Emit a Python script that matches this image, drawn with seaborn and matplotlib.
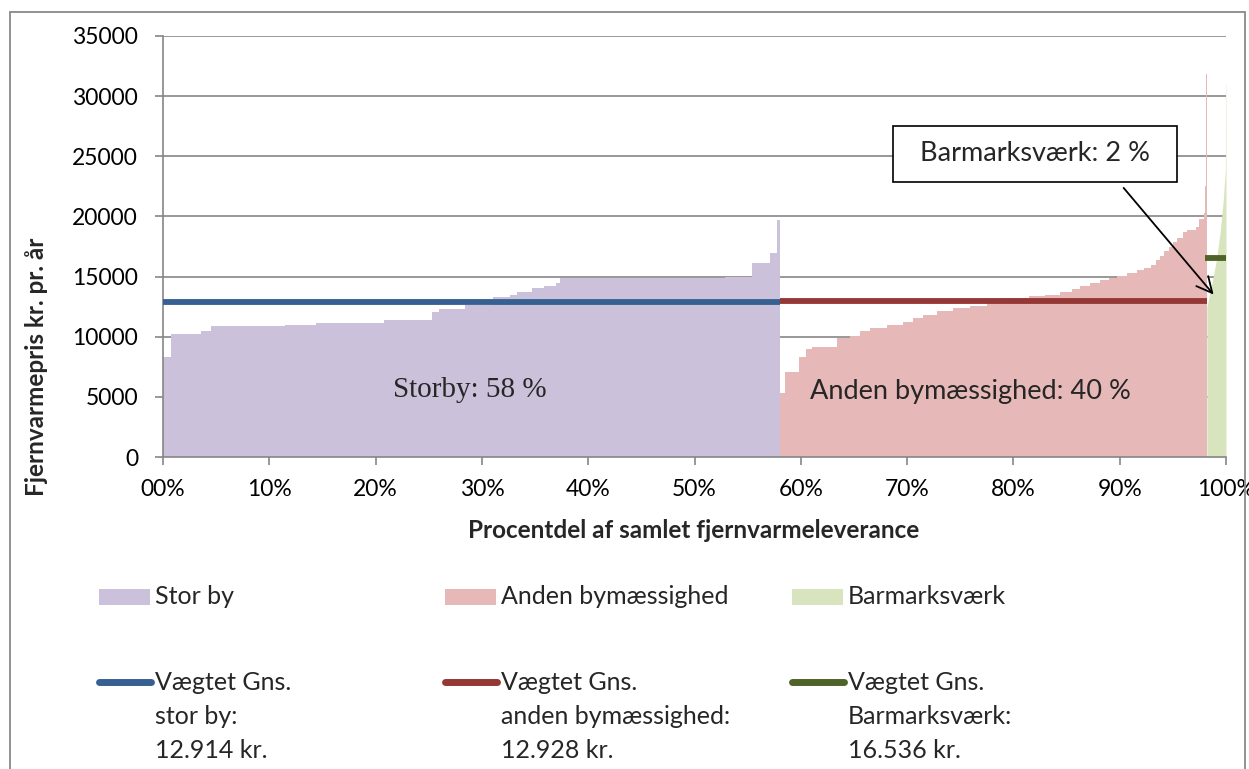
import numpy as np
import pandas as pd
import matplotlib
matplotlib.use("Agg")
import matplotlib.pyplot as plt
import seaborn as sns
from matplotlib.patches import Rectangle
from matplotlib.lines import Line2D

# step data: x = start of each step (% of delivery), y = price (kr. pr. år)
stor_x = [0, 0.75, 3.57, 4.48, 11.48, 14.39, 20.79, 25.27, 26.0, 28.4, 31.07, 32.64, 33.27,
          34.68, 35.87, 36.97, 37.35, 52.87, 55.38, 57.1, 57.73]
stor_y = [8330, 10220, 10470, 10890, 10970, 11170, 11360, 12030, 12300, 12640, 13330, 13500, 13700,
          14030, 14250, 14440, 14890, 15000, 16140, 16940, 19700]
stor_end = 58.0

anden_x = [58.0, 58.51, 59.86, 60.49, 61.02, 63.38, 64.63, 65.57, 66.51, 68.08, 69.64, 70.58,
           71.52, 72.78, 74.35, 75.92, 77.49, 79.05, 81.5, 83.0, 84.4, 85.5, 86.3, 87.2, 88.1,
           89.0, 89.7, 90.7, 91.6, 92.3, 92.9, 93.4, 93.8, 94.2, 94.6, 95.0, 95.4, 96.0, 96.3,
           97.2, 97.5, 97.9, 98.05, 98.12, 98.16]
anden_y = [5280, 7100, 8330, 8950, 9170, 9860, 10060, 10500, 10700, 10970, 11250, 11530,
           11800, 12140, 12360, 12560, 12780, 13200, 13350, 13500, 13750, 13950, 14200, 14450, 14700,
           14900, 15050, 15300, 15550, 15750, 16000, 16350, 16700, 17100, 17500, 17850, 18200, 18700,
           18900, 19100, 19800, 20300, 22500, 25500, 31800]
anden_end = 98.2

barmark_x = [98.2, 98.33, 98.8, 99.1, 99.44, 99.75, 99.94, 99.97, 100]
barmark_y = [12500, 13000, 15000, 16400, 18600, 21400, 23900, 31000, 31000]

# weighted averages
mean_vals = [12914, 12928, 16536]
mean_start = [0, 58.0, 98.0]
mean_stop = [58.0, 98.2, 100.0]

area_labels = ["Stor by", "Anden bymæssighed", "Barmarksværk"]
mean_labels = ["Vægtet Gns.\nstor by:\n12.914 kr.",
               "Vægtet Gns.\nanden bymæssighed:\n12.928 kr.",
               "Vægtet Gns.\nBarmarksværk:\n16.536 kr."]
xtick_vals = [0, 10, 20, 30, 40, 50, 60, 70, 80, 90, 100]
xtick_labels = ["00%", "10%", "20%", "30%", "40%", "50%", "60%", "70%", "80%", "90%", "100%"]
ytick_vals = [0, 5000, 10000, 15000, 20000, 25000, 30000, 35000]

area_colors = ["#CCC1DA", "#E6B9B8", "#D7E4BD"]
line_colors = ["#376092", "#953735", "#4F6228"]
gray = "#868686"

sns.set_theme(style="white")
plt.rcParams['font.family'] = ['Lato', 'DejaVu Sans']

W, H = 1249, 769
fig = plt.figure(figsize=(W / 100, H / 100), dpi=100)
ax = fig.add_axes([163 / W, 1 - 457 / H, (1226 - 163) / W, (457 - 36) / H])

# areas (step-wise)
sx = stor_x + [stor_end]
sy = stor_y + [stor_y[-1]]
ax.fill_between(sx, sy, step='post', color=area_colors[0], lw=0, zorder=2)
axx = anden_x + [anden_end]
ayy = anden_y + [anden_y[-1]]
ax.fill_between(axx, ayy, step='post', color=area_colors[1], lw=0, zorder=2)
ax.fill_between(barmark_x, barmark_y, color=area_colors[2], lw=0, zorder=2)

# weighted average lines
for i in range(3):
    df = pd.DataFrame({"x": [mean_start[i], mean_stop[i]], "y": [mean_vals[i], mean_vals[i]]})
    sns.lineplot(data=df, x="x", y="y", color=line_colors[i], lw=4.2, ax=ax, zorder=4,
                 solid_capstyle='butt', clip_on=False)

ax.set_xlim(0, 100)
ax.set_ylim(0, 35000)
ax.set_xticks(xtick_vals)
ax.set_xticklabels(xtick_labels)
ax.set_yticks(ytick_vals)
ax.set_yticklabels([str(v) for v in ytick_vals])
ax.tick_params(axis='both', which='both', direction='out', length=6, width=1.2, color=gray,
               labelsize=16.5, left=True, bottom=True, labelcolor='black')
ax.tick_params(axis='x', pad=10)
ax.tick_params(axis='y', pad=12)
ax.yaxis.grid(True, color=gray, lw=1.2, zorder=0)
ax.xaxis.grid(False)
ax.set_axisbelow(True)
for s in ['top', 'right']:
    ax.spines[s].set_visible(False)
for s in ['left', 'bottom']:
    ax.spines[s].set_color(gray)
    ax.spines[s].set_linewidth(1.2)
ax.set_xlabel("")
ax.set_ylabel("")

fig.text(694 / W, 1 - 531 / H, "Procentdel af samlet fjernvarmeleverance", ha='center', va='center',
         fontsize=17.5, fontweight='bold')
fig.text(37 / W, 1 - 367 / H, "Fjernvarmepris kr. pr. år", ha='center', va='center',
         fontsize=17.5, fontweight='bold', rotation=90)

# in-plot annotations
ax.text(28.9, 5560, "Storby: 58 %", ha='center', va='center', fontsize=21,
        family='Liberation Serif', zorder=5)
ax.text(76.0, 5450, "Anden bymæssighed: 40 %", ha='center', va='center', fontsize=19.5, zorder=5)
ax.add_patch(Rectangle((68.67, 22880), 95.39 - 68.67, 27540 - 22880, facecolor='white',
                       edgecolor='black', lw=1.2, zorder=5))
ax.text(82.0, 25200, "Barmarksværk: 2 %", ha='center', va='center', fontsize=19.5, zorder=6)
ax.annotate("", xy=(99.0, 13330), xytext=(90.2, 22550),
            arrowprops=dict(arrowstyle='->', color='black', lw=1.3, mutation_scale=28), zorder=6)

# legend (drawn by hand to keep the Excel layout)
col_x = [99, 445, 792]
for i in range(3):
    x0 = col_x[i]
    fig.add_artist(Rectangle((x0 / W, 1 - 605 / H), 51 / W, 16 / H, transform=fig.transFigure,
                             facecolor=area_colors[i], edgecolor='none'))
    fig.text((x0 + 56) / W, 1 - 597 / H, area_labels[i], ha='left', va='center', fontsize=18)
    fig.add_artist(Line2D([(x0) / W, (x0 + 52) / W], [1 - 682 / H, 1 - 682 / H],
                          transform=fig.transFigure, color=line_colors[i], lw=5,
                          solid_capstyle='round'))
    for j, part in enumerate(mean_labels[i].split("\n")):
        fig.text((x0 + 56) / W, 1 - (682 + 34 * j) / H, part, ha='left', va='center', fontsize=18)

# outer frame
fig.add_artist(Rectangle((10 / W, -0.02), (1245 - 10) / W, 1 - 12 / H + 0.02,
                         transform=fig.transFigure, fill=False, edgecolor='#898989', lw=1.3,
                         clip_on=False))

fig.savefig("out.png", dpi=100)
